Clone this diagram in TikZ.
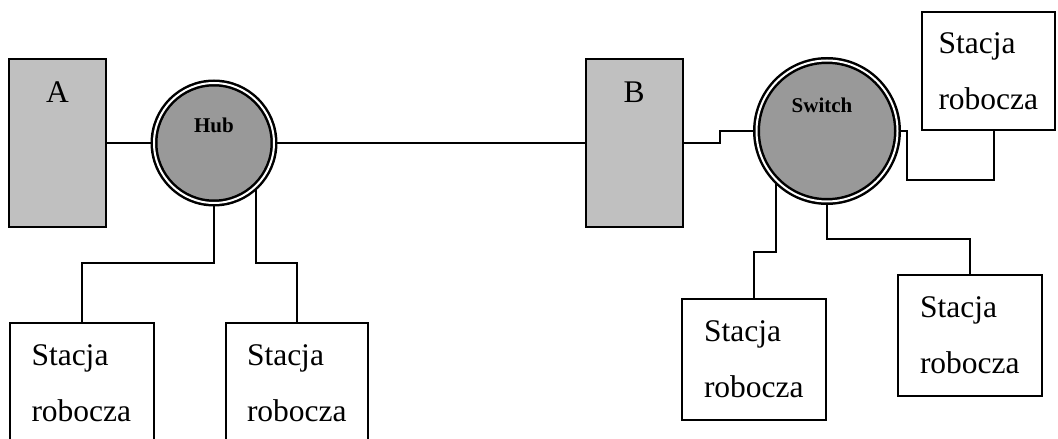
\documentclass[tikz,border=0pt]{standalone}
\usepackage{fontspec}
\setmainfont{Liberation Serif}
\usetikzlibrary{shapes,arrows}
\definecolor{boxgray}{RGB}{192,192,192}
\definecolor{hubgray}{RGB}{153,153,153}
\tikzstyle{device} = [rectangle, draw, fill=boxgray, line width=2pt,
    minimum width=97pt, minimum height=168pt, inner sep=0pt]
\tikzstyle{station} = [rectangle, draw, line width=2pt, text width=100pt, align=left,
    minimum width=144pt, minimum height=121pt, inner sep=0pt, font=\fontsize{31.5}{56}\selectfont]
\tikzstyle{concentrator} = [circle, draw, fill=hubgray, line width=2.5pt,
    double=white, double distance=2pt, inner sep=0pt]
\tikzstyle{caption} = [font=\fontsize{21}{25}\selectfont\bfseries]
\tikzstyle{letter} = [font=\fontsize{31.5}{37}\selectfont]
\tikzstyle{wire} = [draw, line width=2pt]

\begin{document}
\begin{tikzpicture}[x=1pt, y=1pt, node distance=100pt]
    \useasboundingbox (0,0) rectangle (1058,439);
    % Place nodes
    \node [device, at={(57.5,296)}] (A) {};
    \node [concentrator, minimum size=120pt, right of=A, node distance=156.5pt] (hub) {};
    \node [device, right of=hub, node distance=420pt] (B) {};
    \node [concentrator, minimum size=141pt, at={(827,308)}] (switch) {};

    % Place labels
    \node [letter, above of=A, node distance=51pt] (Alabel) {A};
    \node [letter, above of=B, node distance=51pt] (Blabel) {B};
    \node [caption, above of=hub, node distance=18pt] (hublabel) {Hub};
    \node [caption, above of=switch, node distance=26pt, xshift=-5pt] (switchlabel) {Switch};

    % Place workstations
    \node [station, at={(81.5,55.5)}] (st1) {Stacja\\robocza};
    \node [station, minimum width=142pt, at={(297,55.5)}] (st2) {Stacja\\robocza};
    \node [station, at={(754,79.5)}] (st3) {Stacja\\robocza};
    \node [station, at={(970,103.5)}] (st4) {Stacja\\robocza};
    \node [station, minimum width=133pt, minimum height=118pt, at={(988.5,368)}] (st5) {Stacja\\robocza};

    % Bus levels
    \coordinate (hubbus) at (0,176);
    \coordinate (swbusL) at (0,187);
    \coordinate (swbusR) at (0,200);
    \coordinate (swbusT) at (0,259);
    \coordinate (st5stub) at ([xshift=5.5pt]st5.south);

    % Draw lines
    \path [wire] (A) -- (hub);
    \path [wire] (hub.east) -- (hub.east -| B.west);
    \path [wire] (B.east) -- ++(36,0) |- (switch.west);

    \path [wire] (hub.south) |- (hubbus -| st1.north) -- (st1.north);
    \path [wire] (hub.-47) |- (hubbus -| st2.north) -- (st2.north);

    \path [wire] (switch.-135) |- (swbusL -| st3.north) -- (st3.north);
    \path [wire] (switch.south) |- (swbusR -| st4.north) -- (st4.north);
    \path [wire] (switch.east) -- ++(8,0) |- (swbusT -| st5stub) -- (st5stub);

\end{tikzpicture}
\end{document}
